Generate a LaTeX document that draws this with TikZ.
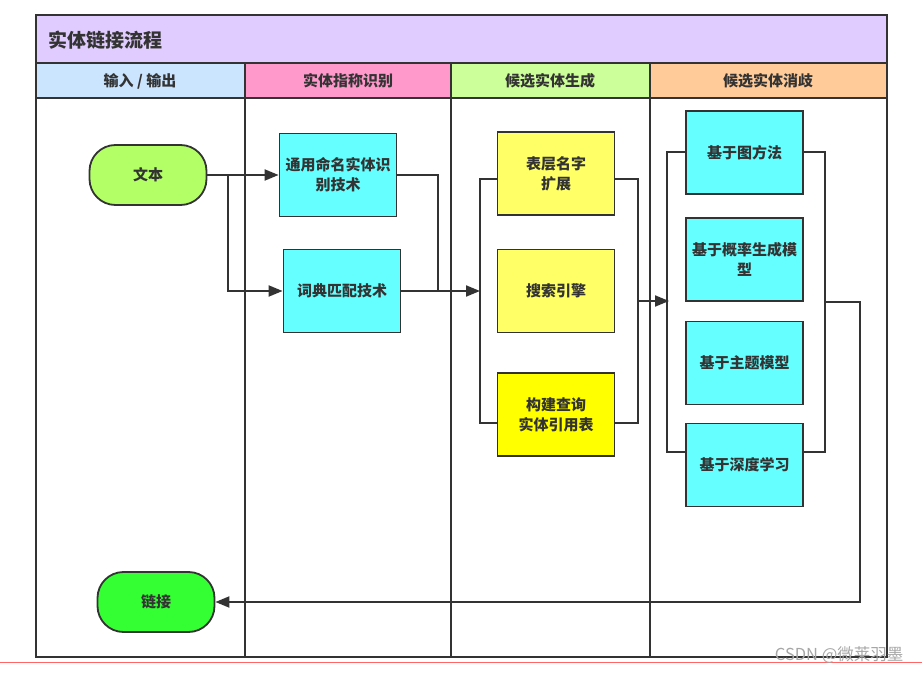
\documentclass[tikz,border=0pt]{standalone}
\usepackage{fontspec}
\setmainfont{Noto Sans CJK SC}
\usetikzlibrary{arrows.meta}
\definecolor{ln}{HTML}{333333}
\definecolor{titlebg}{HTML}{E1CCFF}
\definecolor{hblue}{HTML}{CCE5FF}
\definecolor{hpink}{HTML}{FF99CC}
\definecolor{hgreen}{HTML}{CCFF99}
\definecolor{horange}{HTML}{FFCC99}
\definecolor{cyanbox}{HTML}{66FFFF}
\definecolor{ylwbox}{HTML}{FFFF66}
\definecolor{ylwbox2}{HTML}{FFFF00}
\definecolor{startc}{HTML}{B3FF66}
\definecolor{endc}{HTML}{33FF33}
\tikzset{
  frame/.style={draw=ln, line width=1.8pt},
  hdr/.style={font=\fontsize{15}{17}\selectfont\bfseries, text=ln},
  box/.style={draw=ln, line width=1.8pt, minimum width=117pt, minimum height=83pt,
    align=center, font=\fontsize{15}{20}\selectfont\bfseries, text=ln, inner sep=1pt},
  term/.style={draw=ln, line width=1.8pt, rounded corners=26pt, minimum width=117pt,
    minimum height=60pt, font=\fontsize{15}{18}\selectfont\bfseries, text=ln},
  conn/.style={draw=ln, line width=2pt},
  arr/.style={conn, -{Triangle[length=14pt,width=11pt]}}
}
\begin{document}
\begin{tikzpicture}[x=1pt,y=-1pt]
\useasboundingbox (0,0) rectangle (922,674);
% red line at the bottom
\draw[draw=red!60!white, line width=1pt] (0,662) -- (922,662);
% title band and headers
\fill[titlebg] (36,15) rectangle (887,63);
\fill[hblue] (36,63) rectangle (245,98);
\fill[hpink] (245,63) rectangle (451,98);
\fill[hgreen] (451,63) rectangle (650,98);
\fill[horange] (650,63) rectangle (887,98);
\draw[frame] (36,15) rectangle (887,657);
\draw[frame] (36,63) -- (887,63);
\draw[frame] (36,98) -- (887,98);
\draw[frame] (245,63) -- (245,657);
\draw[frame] (451,63) -- (451,657);
\draw[frame] (650,63) -- (650,657);
\node[anchor=west, font=\fontsize{19}{21}\selectfont\bfseries, text=ln] (title) at (45,40) {实体链接流程};
\node[hdr] (h1) at (140,81) {输入 / 输出};
\node[hdr] (h2) at (348,81) {实体指称识别};
\node[hdr] (h3) at (550,81) {候选实体生成};
\node[hdr] (h4) at (768,81) {候选实体消歧};
% nodes
\node[term, fill=startc] (wenben) at (148,175) {文本};
\node[term, fill=endc] (lianjie) at (156,602) {链接};
\node[box, fill=cyanbox] (tongyong) at (338,175) {通用命名实体识\\别技术};
\node[box, fill=cyanbox] (cidian) at (342,291) {词典匹配技术};
\node[box, fill=ylwbox] (biaoceng) at (556,173.5) {表层名字\\扩展};
\node[box, fill=ylwbox] (sousuo) at (556,291) {搜索引擎};
\node[box, fill=ylwbox2] (goujian) at (556,414.5) {构建查询\\实体引用表};
\node[box, fill=cyanbox] (tufangfa) at (744.5,152.5) {基于图方法};
\node[box, fill=cyanbox] (gailv) at (744.5,259.5) {基于概率生成模\\型};
\node[box, fill=cyanbox] (zhuti) at (744.5,363) {基于主题模型};
\node[box, fill=cyanbox] (shendu) at (744.5,465) {基于深度学习};
% junction coordinates
\coordinate (b1) at (228,175);
\coordinate (j1) at (438,291);
\coordinate (c1) at (480,291);
\coordinate (c2) at (638,301);
\coordinate (c3) at (667,301);
\coordinate (c3t) at (669,301);
\coordinate (c4) at (825,302);
\coordinate (c5) at (860,302);
% connectors
\draw[arr] (wenben.east) -- (tongyong.west);
\draw[arr] (b1) |- (cidian.west);
\draw[conn] (tongyong.east) -| (j1);
\draw[arr] (cidian.east) -- (c1);
\draw[conn] ([yshift=-5.5pt]biaoceng.west) -| (c1) |- ([yshift=-8.5pt]goujian.west);
\draw[conn] ([yshift=-5.5pt]biaoceng.east) -| (c2) |- ([yshift=-8.5pt]goujian.east);
\draw[arr] (c2) -- (c3t);
\draw[conn] (tufangfa.west) -| (c3) |- ([yshift=13pt]shendu.west);
\draw[conn] (tufangfa.east) -| (c4) |- ([yshift=13pt]shendu.east);
\draw[arr] (c4) -- (c5) |- (lianjie.east);
% watermark
\node[anchor=east, text=black!35, font=\fontsize{16.5}{18}\selectfont] (wm) at (907,655) {CSDN @微莱羽墨};
\end{tikzpicture}
\end{document}
